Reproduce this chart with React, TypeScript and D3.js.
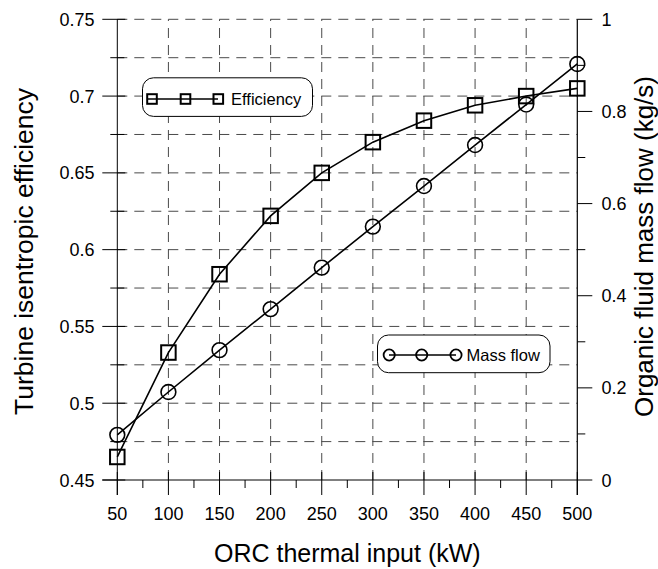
import React from "react";
import * as d3 from "d3";

const thermalInput = [50, 100, 150, 200, 250, 300, 350, 400, 450, 500];
const efficiency = [0.465, 0.533, 0.584, 0.622, 0.65, 0.67, 0.684, 0.694, 0.7, 0.705];
const massFlow = [0.098, 0.191, 0.282, 0.371, 0.461, 0.55, 0.638, 0.727, 0.815, 0.903];

const xTicks = [50, 100, 150, 200, 250, 300, 350, 400, 450, 500];
const xMinor = [75, 125, 175, 225, 275, 325, 375, 425, 475];
const yLeftTicks = [0.45, 0.5, 0.55, 0.6, 0.65, 0.7, 0.75];
const yLeftLabels = ["0.45", "0.5", "0.55", "0.6", "0.65", "0.7", "0.75"];
const yLeftGrid = [0.475, 0.5, 0.525, 0.55, 0.575, 0.6, 0.625, 0.65, 0.675, 0.7, 0.725, 0.75];
const yLeftMinor = [0.475, 0.525, 0.575, 0.625, 0.675, 0.725];
const yRightTicks = [0, 0.2, 0.4, 0.6, 0.8, 1];
const yRightLabels = ["0", "0.2", "0.4", "0.6", "0.8", "1"];
const yRightMinor = [0.1, 0.3, 0.5, 0.7, 0.9];
const xGrid = [100, 150, 200, 250, 300, 350, 400, 450];

const FONT = "'Liberation Sans', Arial, Helvetica, sans-serif";

export default function App() {
  const W = 658, H = 569;
  const x = d3.scaleLinear().domain([50, 500]).range([117.3, 577.3]);
  const yL = d3.scaleLinear().domain([0.45, 0.75]).range([480, 19.3]);
  const yR = d3.scaleLinear().domain([0, 1]).range([480, 19.3]);
  const x0 = x(50), x1 = x(500), yB = yL(0.45), yT = yL(0.75);

  const effLine = d3.line<number>().x((_, i) => x(thermalInput[i])).y((d) => yL(d));
  const mfLine = d3.line<number>().x((_, i) => x(thermalInput[i])).y((d) => yR(d));

  const grid = "#4a4a4a";
  const dash = "10,7";
  const sq = 14.5;
  const cr = 7.4;

  return (
    <svg width={W} height={H} style={{ position: "absolute", left: 0, top: 0, background: "#fff" }} fontFamily={FONT}>
      {/* grid */}
      {yLeftGrid.map((v) => (
        <line key={"hg" + v} x1={x0} x2={x1} y1={yL(v)} y2={yL(v)} stroke={grid} strokeWidth={1} strokeDasharray={dash} />
      ))}
      {xGrid.map((v) => (
        <line key={"vg" + v} x1={x(v)} x2={x(v)} y1={yB} y2={yT} stroke={grid} strokeWidth={1} strokeDasharray={dash} />
      ))}
      {/* axes */}
      <line x1={x0 - 15} x2={x1} y1={yB} y2={yB} stroke="#000" strokeWidth={1} />
      <line x1={x0} x2={x0} y1={yT} y2={yB + 15} stroke="#000" strokeWidth={1} />
      <line x1={x1} x2={x1} y1={yT} y2={yB + 15} stroke="#000" strokeWidth={1.2} />
      {xTicks.map((v) => (
        <line key={"xt" + v} x1={x(v)} x2={x(v)} y1={yB - 8} y2={yB + 15} stroke="#000" strokeWidth={1} />
      ))}
      {xMinor.map((v) => (
        <line key={"xm" + v} x1={x(v)} x2={x(v)} y1={yB} y2={yB + 8} stroke="#000" strokeWidth={1} />
      ))}
      {yLeftTicks.map((v) => (
        <line key={"yl" + v} x1={x0 - 15} x2={x0 + 8} y1={yL(v)} y2={yL(v)} stroke="#000" strokeWidth={1} />
      ))}
      {yLeftMinor.map((v) => (
        <line key={"ylm" + v} x1={x0 - 7} x2={x0 + 7} y1={yL(v)} y2={yL(v)} stroke="#000" strokeWidth={1} />
      ))}
      {yRightTicks.map((v) => (
        <line key={"yr" + v} x1={x1} x2={x1 + 15} y1={yR(v)} y2={yR(v)} stroke="#000" strokeWidth={1} />
      ))}
      {yRightMinor.map((v) => (
        <line key={"yrm" + v} x1={x1} x2={x1 + 8} y1={yR(v)} y2={yR(v)} stroke="#000" strokeWidth={1} />
      ))}
      {/* tick labels */}
      {xTicks.map((v) => (
        <text key={"xl" + v} x={x(v)} y={520} textAnchor="middle" fontSize={18}>{v}</text>
      ))}
      {yLeftTicks.map((v, i) => (
        <text key={"yll" + v} x={94.5} y={yL(v) + 6.5} textAnchor="end" fontSize={18}>{yLeftLabels[i]}</text>
      ))}
      {yRightTicks.map((v, i) => (
        <text key={"yrl" + v} x={601.5} y={yR(v) + 6.5} textAnchor="start" fontSize={18}>{yRightLabels[i]}</text>
      ))}
      {/* titles */}
      <text x={(x0 + x1) / 2} y={562} textAnchor="middle" fontSize={25}>ORC thermal input (kW)</text>
      <text transform={`translate(33,251.5) rotate(-90)`} textAnchor="middle" fontSize={26.5}>Turbine isentropic efficiency</text>
      <text transform={`translate(653,246.5) rotate(-90)`} textAnchor="middle" fontSize={26}>Organic fluid mass flow (kg/s)</text>
      {/* series */}
      <path d={effLine(efficiency) || ""} fill="none" stroke="#000" strokeWidth={1.6} />
      <path d={mfLine(massFlow) || ""} fill="none" stroke="#000" strokeWidth={1.6} />
      {efficiency.map((v, i) => (
        <rect key={"sq" + i} x={x(thermalInput[i]) - sq / 2} y={yL(v) - sq / 2} width={sq} height={sq} fill="none" stroke="#000" strokeWidth={2} />
      ))}
      {massFlow.map((v, i) => (
        <circle key={"ci" + i} cx={x(thermalInput[i])} cy={yR(v)} r={cr} fill="none" stroke="#000" strokeWidth={1.6} />
      ))}
      {/* legends */}
      <rect x={142.5} y={77.8} width={170} height={38.6} rx={11} fill="#fff" stroke="#000" strokeWidth={1} />
      <line x1={147} x2={218} y1={99} y2={99} stroke="#000" strokeWidth={1.6} />
      {[152, 185.5, 218.3].map((cx) => (
        <rect key={"lsq" + cx} x={cx - 4.8} y={99 - 4.8} width={9.6} height={9.6} fill="none" stroke="#000" strokeWidth={2} />
      ))}
      <text x={231} y={105} fontSize={16.5}>Efficiency</text>

      <rect x={377.5} y={335} width={172.5} height={37.7} rx={11} fill="#fff" stroke="#000" strokeWidth={1} />
      <line x1={389} x2={456} y1={355} y2={355} stroke="#000" strokeWidth={1.6} />
      {[389.2, 421.7, 456].map((cx) => (
        <circle key={"lci" + cx} cx={cx} cy={355} r={5.6} fill="#fff" fillOpacity={0} stroke="#000" strokeWidth={1.8} />
      ))}
      <text x={466.5} y={361} fontSize={16.5}>Mass flow</text>
    </svg>
  );
}
